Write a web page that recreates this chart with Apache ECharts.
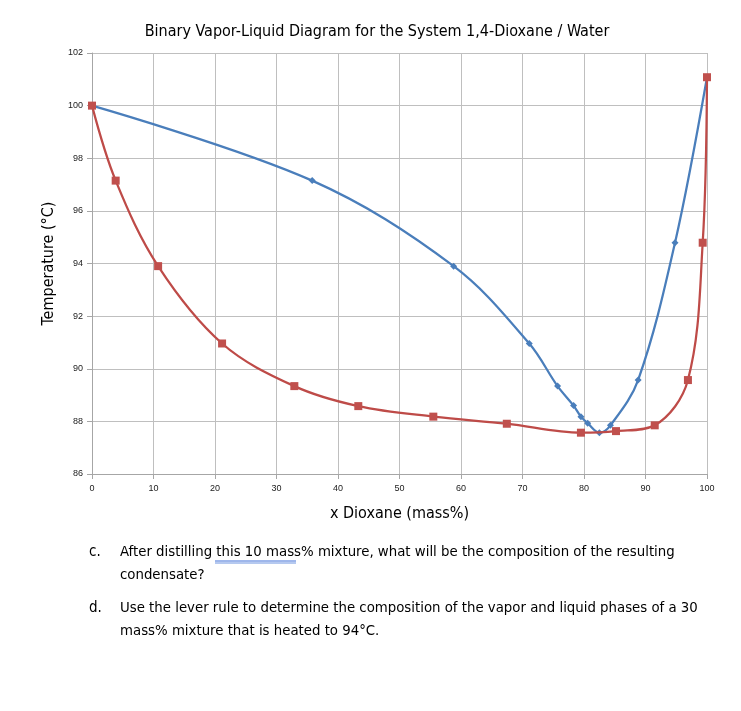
<!DOCTYPE html>
<html>
<head>
<meta charset="utf-8">
<script src="https://cdn.jsdelivr.net/npm/echarts@6/dist/echarts.min.js"></script>
<style>
html,body{margin:0;padding:0;background:#fff;}
#chart{width:741px;height:711px;}
</style>
</head>
<body>
<div id="chart"></div>
<script>
// Liquid (red squares): x = mass% dioxane, y = temperature (°C)
var liquidX = [0, 3.85, 10.75, 21.15, 32.9, 43.3, 55.5, 67.45, 79.5, 85.2, 91.5, 96.9, 99.3, 100];
var liquidT = [100, 97.15, 93.9, 90.96, 89.34, 88.58, 88.18, 87.91, 87.57, 87.63, 87.85, 89.57, 94.79, 101.08];
// Vapor (blue diamonds)
var vaporX = [0, 35.8, 58.8, 71.1, 75.7, 78.3, 79.5, 80.6, 82.5, 84.3, 88.8, 94.8, 100];
var vaporT = [100, 97.15, 93.9, 90.96, 89.34, 88.6, 88.18, 87.93, 87.57, 87.85, 89.57, 94.79, 101.08];
var xTicks = [0, 10, 20, 30, 40, 50, 60, 70, 80, 90, 100];
var yTicks = [86, 88, 90, 92, 94, 96, 98, 100, 102];

var titleText = 'Binary Vapor-Liquid Diagram for the System 1,4-Dioxane / Water';
var xName = 'x Dioxane (mass%)';
var yName = 'Temperature (\u00B0C)';
var questionLines = [
  ['c.', 'After distilling this 10 mass% mixture, what will be the composition of the resulting', 'condensate?'],
  ['d.', 'Use the lever rule to determine the composition of the vapor and liquid phases of a 30', 'mass% mixture that is heated to 94\u00B0C.']
];

function pairs(xs, ys){ return xs.map(function(x,i){ return [x, ys[i]]; }); }

var narrow = '"Liberation Sans Narrow", "DejaVu Sans Condensed", "Liberation Sans", sans-serif';
var chart = echarts.init(document.getElementById('chart'), null, {renderer:'canvas'});

var graphics = [];
var qy = [554, 610];
questionLines.forEach(function(q, i){
  graphics.push({type:'text', left:89, top:qy[i]-9, style:{text:q[0], font:'15px ' + narrow, fill:'#000'}});
  graphics.push({type:'text', left:120, top:qy[i]-9, style:{text:q[1], font:'14.8px ' + narrow, fill:'#000'}});
  graphics.push({type:'text', left:120, top:qy[i]+14, style:{text:q[2], font:'14.8px ' + narrow, fill:'#000'}});
});
graphics.push({type:'line', shape:{x1:215, y1:561, x2:296, y2:561}, style:{stroke:'#3f6fd6', lineWidth:1}});
graphics.push({type:'line', shape:{x1:215, y1:563, x2:296, y2:563}, style:{stroke:'#6d93e0', lineWidth:1}});

chart.setOption({
  animation:false,
  backgroundColor:'#fff',
  title:{
    text:titleText, left:372, top:19, textAlign:'center',
    textStyle:{fontFamily:narrow, fontSize:16, fontWeight:'normal', color:'#000'}
  },
  grid:{left:92, top:53, width:615, height:421, containLabel:false},
  xAxis:{
    type:'value', min:0, max:100, interval:10,
    name:xName, nameLocation:'middle', nameGap:32,
    nameTextStyle:{fontFamily:narrow, fontSize:16, color:'#000'},
    axisLine:{show:true, lineStyle:{color:'#a6a6a6', width:1}},
    axisTick:{show:true, length:5, lineStyle:{color:'#a6a6a6'}},
    splitLine:{show:true, lineStyle:{color:'#bfbfbf', width:1}},
    axisLabel:{margin:10, fontFamily:'"Liberation Sans", sans-serif', fontSize:9, color:'#222',
      formatter:function(v){ return xTicks.indexOf(v) >= 0 ? String(v) : ''; }}
  },
  yAxis:{
    type:'value', min:86, max:102, interval:2,
    name:yName, nameLocation:'middle', nameGap:31,
    nameTextStyle:{fontFamily:narrow, fontSize:16, color:'#000'},
    axisLine:{show:true, lineStyle:{color:'#a6a6a6', width:1}},
    axisTick:{show:true, length:5, lineStyle:{color:'#a6a6a6'}},
    splitLine:{show:true, lineStyle:{color:'#bfbfbf', width:1}},
    axisLabel:{margin:9, fontFamily:'"Liberation Sans", sans-serif', fontSize:9, color:'#222',
      formatter:function(v){ return yTicks.indexOf(v) >= 0 ? String(v) : ''; }}
  },
  series:[
    {
      name:'Vapor', type:'line', data:pairs(vaporX, vaporT),
      smooth:0.35, symbol:'diamond', symbolSize:7, showSymbol:true,
      lineStyle:{color:'#4a7ebb', width:2.25},
      itemStyle:{color:'#4a7ebb'}, z:3
    },
    {
      name:'Liquid', type:'line', data:pairs(liquidX, liquidT),
      smooth:0.35, symbol:'rect', symbolSize:8, showSymbol:true,
      lineStyle:{color:'#be4b48', width:2.25},
      itemStyle:{color:'#c0504d'}, z:4
    }
  ],
  graphic:graphics
});
</script>
</body>
</html>
